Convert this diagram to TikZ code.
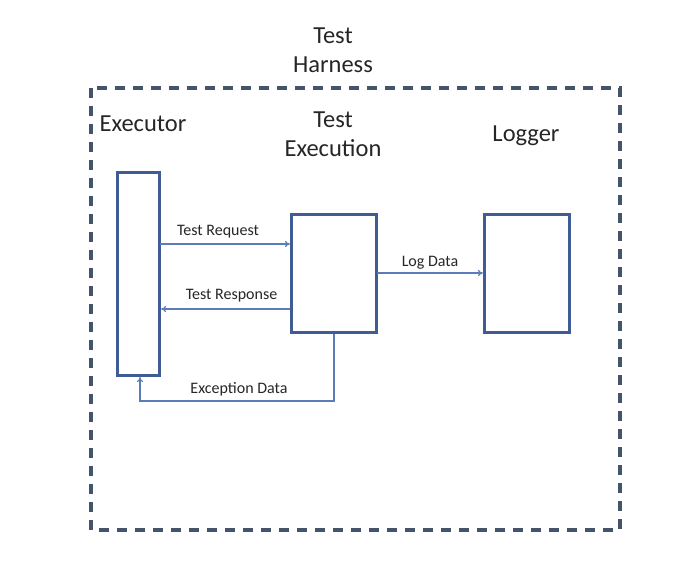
\documentclass[tikz,border=0pt]{standalone}
\usepackage{fontspec}
\setmainfont{Carlito}
\usetikzlibrary{arrows.meta}
\definecolor{boxblue}{HTML}{3F5C94}
\definecolor{harness}{HTML}{44546A}
\definecolor{linkblue}{HTML}{5A7DBA}
\tikzset{
  x=1pt,y=-1pt,
  blockbox/.style={draw=boxblue,line width=3pt,fill=white},
  harnessbox/.style={draw=harness,line width=3.2pt,dash pattern=on 10pt off 8pt},
  big/.style={font=\fontsize{24.5}{29}\selectfont,align=center,text=black!85},
  small/.style={font=\fontsize{16}{19}\selectfont,text=black!85},
  link/.style={draw=linkblue,line width=1.1pt,-{To[length=5pt,width=6pt]}}
}
\begin{document}
\begin{tikzpicture}
\useasboundingbox (0,0) rectangle (692,576);
\draw[harnessbox] (91,88) rectangle (620,530);
\node[big] (harnessT) at (333,50) {Test\\Harness};
\node[big] (execT) at (143,124) {Executor};
\node[big] (testexT) at (333,134) {Test\\Execution};
\node[big] (logT) at (526,136) {Logger};
\draw[blockbox] (117,172) rectangle (159,375);
\draw[blockbox] (291,214) rectangle (376,332);
\draw[blockbox] (484,214) rectangle (569,332);
\coordinate (reqA) at (160,244);
\coordinate (reqB) at (290,244);
\coordinate (resA) at (290,309);
\coordinate (resB) at (161,309);
\coordinate (logA) at (377,273);
\coordinate (logB) at (483,273);
\coordinate (excA) at (334,334);
\coordinate (excB) at (140,377);
\draw[link] (reqA) -- node[small,above=2.5pt,xshift=-7pt] (reqL) {Test Request} (reqB);
\draw[link] (resA) -- node[small,above=3pt,xshift=6pt] (resL) {Test Response} (resB);
\draw[link] (logA) -- node[small,above=0pt] (logL) {Log Data} (logB);
\draw[link] (excA) |- (140,401) node[small,midway,above=1pt,xshift=-95pt] (excL) {Exception Data} -- (excB);
\end{tikzpicture}
\end{document}
